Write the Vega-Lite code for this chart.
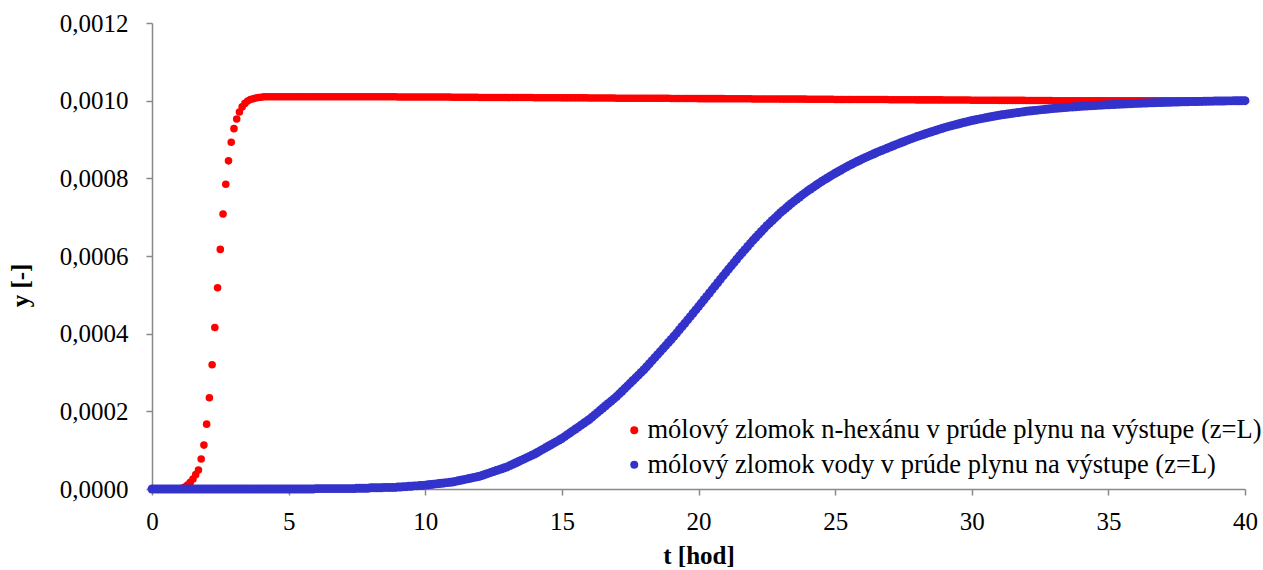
{
"$schema":"https://vega.github.io/schema/vega-lite/v6.json",
"width":1093,"height":466,
"autosize":{"type":"none"},
"padding":{"left":152,"top":23,"right":18,"bottom":81},
"background":"white",
"config":{"view":{"stroke":null},"font":"Liberation Serif, Times New Roman, serif",
"axis":{"grid":false,"domainColor":"#898989","tickColor":"#898989","domainWidth":1.5,"tickWidth":1.5,"tickSize":6,"labelColor":"black","labelFont":"Liberation Serif, Times New Roman, serif","labelFontSize":25,"titleFont":"Liberation Serif, Times New Roman, serif","titleFontSize":25,"titleFontWeight":"bold","titleColor":"black"}},
"data":{"values":[
{"t":0,"h":0,"w":0},{"t":0.1,"h":0,"w":0},{"t":0.2,"h":0,"w":0},{"t":0.3,"h":0,"w":0},{"t":0.4,"h":0,"w":0},{"t":0.5,"h":0,"w":0},{"t":0.6,"h":0,"w":0},{"t":0.7,"h":0,"w":0},{"t":0.8,"h":0,"w":0},{"t":0.9,"h":0,"w":0},
{"t":1,"h":0,"w":0},{"t":1.1,"h":0.000002,"w":0},{"t":1.2,"h":0.000005,"w":0},{"t":1.3,"h":0.00001,"w":0},{"t":1.4,"h":0.000017,"w":0},{"t":1.5,"h":0.000026,"w":0},{"t":1.6,"h":0.000037,"w":0},{"t":1.7,"h":0.000049,"w":0},{"t":1.8,"h":0.000077,"w":0},{"t":1.9,"h":0.000113,"w":0},
{"t":2,"h":0.000167,"w":0},{"t":2.1,"h":0.000235,"w":0},{"t":2.2,"h":0.00032,"w":0},{"t":2.3,"h":0.000416,"w":0},{"t":2.4,"h":0.000518,"w":0},{"t":2.5,"h":0.000617,"w":0},{"t":2.6,"h":0.000708,"w":0},{"t":2.7,"h":0.000785,"w":0},{"t":2.8,"h":0.000845,"w":0},{"t":2.9,"h":0.000893,"w":0},
{"t":3,"h":0.000928,"w":0},{"t":3.1,"h":0.000953,"w":0},{"t":3.2,"h":0.000971,"w":0},{"t":3.3,"h":0.000984,"w":0},{"t":3.4,"h":0.000993,"w":0},{"t":3.5,"h":0.000999,"w":0},{"t":3.6,"h":0.001003,"w":0},{"t":3.7,"h":0.001005,"w":0},{"t":3.8,"h":0.001007,"w":0},{"t":3.9,"h":0.001008,"w":0},
{"t":4,"h":0.001009,"w":0},{"t":4.1,"h":0.00101,"w":0},{"t":4.2,"h":0.00101,"w":0},{"t":4.3,"h":0.00101,"w":0},{"t":4.4,"h":0.00101,"w":0},{"t":4.5,"h":0.00101,"w":0},{"t":4.6,"h":0.00101,"w":0},{"t":4.7,"h":0.00101,"w":0},{"t":4.8,"h":0.00101,"w":0},{"t":4.9,"h":0.00101,"w":0},
{"t":5,"h":0.00101,"w":0},{"t":5.1,"h":0.00101,"w":0},{"t":5.2,"h":0.00101,"w":0},{"t":5.3,"h":0.00101,"w":0},{"t":5.4,"h":0.00101,"w":0},{"t":5.5,"h":0.00101,"w":0},{"t":5.6,"h":0.00101,"w":0},{"t":5.7,"h":0.00101,"w":0},{"t":5.8,"h":0.00101,"w":0},{"t":5.9,"h":0.00101,"w":0},
{"t":6,"h":0.00101,"w":0.000001},{"t":6.1,"h":0.00101,"w":0.000001},{"t":6.2,"h":0.00101,"w":0.000001},{"t":6.3,"h":0.00101,"w":0.000001},{"t":6.4,"h":0.00101,"w":0.000001},{"t":6.5,"h":0.00101,"w":0.000001},{"t":6.6,"h":0.00101,"w":0.000001},{"t":6.7,"h":0.00101,"w":0.000001},{"t":6.8,"h":0.00101,"w":0.000001},{"t":6.9,"h":0.00101,"w":0.000001},
{"t":7,"h":0.00101,"w":0.000001},{"t":7.1,"h":0.00101,"w":0.000001},{"t":7.2,"h":0.00101,"w":0.000001},{"t":7.3,"h":0.00101,"w":0.000001},{"t":7.4,"h":0.00101,"w":0.000001},{"t":7.5,"h":0.00101,"w":0.000002},{"t":7.6,"h":0.00101,"w":0.000002},{"t":7.7,"h":0.00101,"w":0.000002},{"t":7.8,"h":0.00101,"w":0.000002},{"t":7.9,"h":0.00101,"w":0.000002},
{"t":8,"h":0.00101,"w":0.000003},{"t":8.1,"h":0.00101,"w":0.000003},{"t":8.2,"h":0.00101,"w":0.000003},{"t":8.3,"h":0.00101,"w":0.000003},{"t":8.4,"h":0.00101,"w":0.000003},{"t":8.5,"h":0.00101,"w":0.000004},{"t":8.6,"h":0.00101,"w":0.000004},{"t":8.7,"h":0.00101,"w":0.000004},{"t":8.8,"h":0.00101,"w":0.000004},{"t":8.9,"h":0.00101,"w":0.000004},
{"t":9,"h":0.0010096,"w":0.000005},{"t":9.1,"h":0.0010096,"w":0.000005},{"t":9.2,"h":0.0010096,"w":0.000006},{"t":9.3,"h":0.0010096,"w":0.000006},{"t":9.4,"h":0.0010096,"w":0.000007},{"t":9.5,"h":0.0010096,"w":0.000007},{"t":9.6,"h":0.0010096,"w":0.000008},{"t":9.7,"h":0.0010096,"w":0.000008},{"t":9.8,"h":0.0010096,"w":0.000009},{"t":9.9,"h":0.0010096,"w":0.000009},
{"t":10,"h":0.0010092,"w":0.00001},{"t":10.1,"h":0.0010092,"w":0.0000108},{"t":10.2,"h":0.0010092,"w":0.0000116},{"t":10.3,"h":0.0010092,"w":0.0000124},{"t":10.4,"h":0.0010092,"w":0.0000132},{"t":10.5,"h":0.0010092,"w":0.000014},{"t":10.6,"h":0.0010092,"w":0.0000148},{"t":10.7,"h":0.0010092,"w":0.0000156},{"t":10.8,"h":0.0010092,"w":0.0000164},{"t":10.9,"h":0.0010092,"w":0.0000172},
{"t":11,"h":0.0010088,"w":0.000018},{"t":11.1,"h":0.0010088,"w":0.0000195},{"t":11.2,"h":0.0010088,"w":0.000021},{"t":11.3,"h":0.0010088,"w":0.0000225},{"t":11.4,"h":0.0010088,"w":0.000024},{"t":11.5,"h":0.0010088,"w":0.0000255},{"t":11.6,"h":0.0010088,"w":0.000027},{"t":11.7,"h":0.0010088,"w":0.0000285},{"t":11.8,"h":0.0010088,"w":0.00003},{"t":11.9,"h":0.0010088,"w":0.0000315},
{"t":12,"h":0.0010084,"w":0.000033},{"t":12.1,"h":0.0010084,"w":0.0000354},{"t":12.2,"h":0.0010084,"w":0.0000378},{"t":12.3,"h":0.0010084,"w":0.0000402},{"t":12.4,"h":0.0010084,"w":0.0000426},{"t":12.5,"h":0.0010084,"w":0.000045},{"t":12.6,"h":0.0010084,"w":0.0000474},{"t":12.7,"h":0.0010084,"w":0.0000498},{"t":12.8,"h":0.0010084,"w":0.0000522},{"t":12.9,"h":0.0010084,"w":0.0000546},
{"t":13,"h":0.001008,"w":0.000057},{"t":13.1,"h":0.001008,"w":0.0000603},{"t":13.2,"h":0.001008,"w":0.0000636},{"t":13.3,"h":0.001008,"w":0.0000669},{"t":13.4,"h":0.001008,"w":0.0000702},{"t":13.5,"h":0.001008,"w":0.0000735},{"t":13.6,"h":0.001008,"w":0.0000768},{"t":13.7,"h":0.001008,"w":0.0000801},{"t":13.8,"h":0.001008,"w":0.0000834},{"t":13.9,"h":0.001008,"w":0.0000867},
{"t":14,"h":0.0010076,"w":0.00009},{"t":14.1,"h":0.0010076,"w":0.000094},{"t":14.2,"h":0.0010076,"w":0.000098},{"t":14.3,"h":0.0010076,"w":0.000102},{"t":14.4,"h":0.0010076,"w":0.000106},{"t":14.5,"h":0.0010076,"w":0.00011},{"t":14.6,"h":0.0010076,"w":0.000114},{"t":14.7,"h":0.0010076,"w":0.000118},{"t":14.8,"h":0.0010076,"w":0.000122},{"t":14.9,"h":0.0010076,"w":0.000126},
{"t":15,"h":0.0010072,"w":0.00013},{"t":15.1,"h":0.0010072,"w":0.0001349},{"t":15.2,"h":0.0010072,"w":0.0001398},{"t":15.3,"h":0.0010072,"w":0.0001447},{"t":15.4,"h":0.0010072,"w":0.0001496},{"t":15.5,"h":0.0010072,"w":0.0001545},{"t":15.6,"h":0.0010072,"w":0.0001594},{"t":15.7,"h":0.0010072,"w":0.0001643},{"t":15.8,"h":0.0010072,"w":0.0001692},{"t":15.9,"h":0.0010072,"w":0.0001741},
{"t":16,"h":0.0010068,"w":0.000179},{"t":16.1,"h":0.0010068,"w":0.0001849},{"t":16.2,"h":0.0010068,"w":0.0001908},{"t":16.3,"h":0.0010068,"w":0.0001967},{"t":16.4,"h":0.0010068,"w":0.0002026},{"t":16.5,"h":0.0010068,"w":0.0002085},{"t":16.6,"h":0.0010068,"w":0.0002144},{"t":16.7,"h":0.0010068,"w":0.0002203},{"t":16.8,"h":0.0010068,"w":0.0002262},{"t":16.9,"h":0.0010068,"w":0.0002321},
{"t":17,"h":0.0010064,"w":0.000238},{"t":17.1,"h":0.0010064,"w":0.0002449},{"t":17.2,"h":0.0010064,"w":0.0002518},{"t":17.3,"h":0.0010064,"w":0.0002587},{"t":17.4,"h":0.0010064,"w":0.0002656},{"t":17.5,"h":0.0010064,"w":0.0002725},{"t":17.6,"h":0.0010064,"w":0.0002794},{"t":17.7,"h":0.0010064,"w":0.0002863},{"t":17.8,"h":0.0010064,"w":0.0002932},{"t":17.9,"h":0.0010064,"w":0.0003001},
{"t":18,"h":0.001006,"w":0.000307},{"t":18.1,"h":0.001006,"w":0.0003148},{"t":18.2,"h":0.001006,"w":0.0003226},{"t":18.3,"h":0.001006,"w":0.0003304},{"t":18.4,"h":0.001006,"w":0.0003382},{"t":18.5,"h":0.001006,"w":0.000346},{"t":18.6,"h":0.001006,"w":0.0003538},{"t":18.7,"h":0.001006,"w":0.0003616},{"t":18.8,"h":0.001006,"w":0.0003694},{"t":18.9,"h":0.001006,"w":0.0003772},
{"t":19,"h":0.0010056,"w":0.000385},{"t":19.1,"h":0.0010056,"w":0.0003933},{"t":19.2,"h":0.0010056,"w":0.0004016},{"t":19.3,"h":0.0010056,"w":0.00041},{"t":19.4,"h":0.0010056,"w":0.0004184},{"t":19.5,"h":0.0010056,"w":0.0004268},{"t":19.6,"h":0.0010056,"w":0.0004353},{"t":19.7,"h":0.0010056,"w":0.0004439},{"t":19.8,"h":0.0010056,"w":0.0004525},{"t":19.9,"h":0.0010056,"w":0.0004611},
{"t":20,"h":0.0010052,"w":0.0004698},{"t":20.1,"h":0.0010052,"w":0.0004786},{"t":20.2,"h":0.0010052,"w":0.0004873},{"t":20.3,"h":0.0010052,"w":0.0004961},{"t":20.4,"h":0.0010052,"w":0.0005048},{"t":20.5,"h":0.0010052,"w":0.0005136},{"t":20.6,"h":0.0010052,"w":0.0005224},{"t":20.7,"h":0.0010052,"w":0.0005311},{"t":20.8,"h":0.0010052,"w":0.0005399},{"t":20.9,"h":0.0010052,"w":0.0005486},
{"t":21,"h":0.0010048,"w":0.0005574},{"t":21.1,"h":0.0010048,"w":0.000566},{"t":21.2,"h":0.0010048,"w":0.0005745},{"t":21.3,"h":0.0010048,"w":0.0005831},{"t":21.4,"h":0.0010048,"w":0.0005916},{"t":21.5,"h":0.0010048,"w":0.0006002},{"t":21.6,"h":0.0010048,"w":0.0006083},{"t":21.7,"h":0.0010048,"w":0.0006164},{"t":21.8,"h":0.0010048,"w":0.0006245},{"t":21.9,"h":0.0010048,"w":0.0006326},
{"t":22,"h":0.0010044,"w":0.0006407},{"t":22.1,"h":0.0010044,"w":0.0006482},{"t":22.2,"h":0.0010044,"w":0.0006556},{"t":22.3,"h":0.0010044,"w":0.0006631},{"t":22.4,"h":0.0010044,"w":0.0006705},{"t":22.5,"h":0.0010044,"w":0.000678},{"t":22.6,"h":0.0010044,"w":0.0006847},{"t":22.7,"h":0.0010044,"w":0.0006914},{"t":22.8,"h":0.0010044,"w":0.0006981},{"t":22.9,"h":0.0010044,"w":0.0007048},
{"t":23,"h":0.001004,"w":0.0007115},{"t":23.1,"h":0.001004,"w":0.0007175},{"t":23.2,"h":0.001004,"w":0.0007234},{"t":23.3,"h":0.001004,"w":0.0007294},{"t":23.4,"h":0.001004,"w":0.0007353},{"t":23.5,"h":0.001004,"w":0.0007413},{"t":23.6,"h":0.001004,"w":0.0007466},{"t":23.7,"h":0.001004,"w":0.0007519},{"t":23.8,"h":0.001004,"w":0.0007572},{"t":23.9,"h":0.001004,"w":0.0007625},
{"t":24,"h":0.0010036,"w":0.0007678},{"t":24.1,"h":0.0010036,"w":0.0007726},{"t":24.2,"h":0.0010036,"w":0.0007773},{"t":24.3,"h":0.0010036,"w":0.0007821},{"t":24.4,"h":0.0010036,"w":0.0007868},{"t":24.5,"h":0.0010036,"w":0.0007916},{"t":24.6,"h":0.0010036,"w":0.0007959},{"t":24.7,"h":0.0010036,"w":0.0008002},{"t":24.8,"h":0.0010036,"w":0.0008045},{"t":24.9,"h":0.0010036,"w":0.0008088},
{"t":25,"h":0.0010032,"w":0.0008131},{"t":25.1,"h":0.0010032,"w":0.000817},{"t":25.2,"h":0.0010032,"w":0.0008209},{"t":25.3,"h":0.0010032,"w":0.0008248},{"t":25.4,"h":0.0010032,"w":0.0008287},{"t":25.5,"h":0.0010032,"w":0.0008326},{"t":25.6,"h":0.0010032,"w":0.0008361},{"t":25.7,"h":0.0010032,"w":0.0008396},{"t":25.8,"h":0.0010032,"w":0.0008431},{"t":25.9,"h":0.0010032,"w":0.0008466},
{"t":26,"h":0.0010028,"w":0.0008501},{"t":26.1,"h":0.0010028,"w":0.0008533},{"t":26.2,"h":0.0010028,"w":0.0008564},{"t":26.3,"h":0.0010028,"w":0.0008596},{"t":26.4,"h":0.0010028,"w":0.0008627},{"t":26.5,"h":0.0010028,"w":0.0008659},{"t":26.6,"h":0.0010028,"w":0.0008688},{"t":26.7,"h":0.0010028,"w":0.0008717},{"t":26.8,"h":0.0010028,"w":0.0008746},{"t":26.9,"h":0.0010028,"w":0.0008775},
{"t":27,"h":0.0010024,"w":0.0008804},{"t":27.1,"h":0.0010024,"w":0.0008832},{"t":27.2,"h":0.0010024,"w":0.000886},{"t":27.3,"h":0.0010024,"w":0.0008888},{"t":27.4,"h":0.0010024,"w":0.0008916},{"t":27.5,"h":0.0010024,"w":0.0008943},{"t":27.6,"h":0.0010024,"w":0.000897},{"t":27.7,"h":0.0010024,"w":0.0008997},{"t":27.8,"h":0.0010024,"w":0.0009023},{"t":27.9,"h":0.0010024,"w":0.0009049},
{"t":28,"h":0.001002,"w":0.0009075},{"t":28.1,"h":0.001002,"w":0.0009099},{"t":28.2,"h":0.001002,"w":0.0009123},{"t":28.3,"h":0.001002,"w":0.0009147},{"t":28.4,"h":0.001002,"w":0.000917},{"t":28.5,"h":0.001002,"w":0.0009193},{"t":28.6,"h":0.001002,"w":0.0009216},{"t":28.7,"h":0.001002,"w":0.0009239},{"t":28.8,"h":0.001002,"w":0.0009261},{"t":28.9,"h":0.001002,"w":0.0009283},
{"t":29,"h":0.0010016,"w":0.0009305},{"t":29.1,"h":0.0010016,"w":0.0009325},{"t":29.2,"h":0.0010016,"w":0.0009344},{"t":29.3,"h":0.0010016,"w":0.0009363},{"t":29.4,"h":0.0010016,"w":0.0009382},{"t":29.5,"h":0.0010016,"w":0.00094},{"t":29.6,"h":0.0010016,"w":0.0009418},{"t":29.7,"h":0.0010016,"w":0.0009436},{"t":29.8,"h":0.0010016,"w":0.0009453},{"t":29.9,"h":0.0010016,"w":0.000947},
{"t":30,"h":0.0010012,"w":0.0009487},{"t":30.1,"h":0.0010012,"w":0.0009503},{"t":30.2,"h":0.0010012,"w":0.0009517},{"t":30.3,"h":0.0010012,"w":0.0009531},{"t":30.4,"h":0.0010012,"w":0.0009544},{"t":30.5,"h":0.0010012,"w":0.0009558},{"t":30.6,"h":0.0010012,"w":0.0009571},{"t":30.7,"h":0.0010012,"w":0.0009585},{"t":30.8,"h":0.0010012,"w":0.0009598},{"t":30.9,"h":0.0010012,"w":0.0009612},
{"t":31,"h":0.0010008,"w":0.0009625},{"t":31.1,"h":0.0010008,"w":0.0009635},{"t":31.2,"h":0.0010008,"w":0.0009645},{"t":31.3,"h":0.0010008,"w":0.0009655},{"t":31.4,"h":0.0010008,"w":0.0009665},{"t":31.5,"h":0.0010008,"w":0.0009675},{"t":31.6,"h":0.0010008,"w":0.0009685},{"t":31.7,"h":0.0010008,"w":0.0009695},{"t":31.8,"h":0.0010008,"w":0.0009705},{"t":31.9,"h":0.0010008,"w":0.0009715},
{"t":32,"h":0.0010004,"w":0.0009725},{"t":32.1,"h":0.0010004,"w":0.0009733},{"t":32.2,"h":0.0010004,"w":0.000974},{"t":32.3,"h":0.0010004,"w":0.0009748},{"t":32.4,"h":0.0010004,"w":0.0009755},{"t":32.5,"h":0.0010004,"w":0.0009763},{"t":32.6,"h":0.0010004,"w":0.000977},{"t":32.7,"h":0.0010004,"w":0.0009778},{"t":32.8,"h":0.0010004,"w":0.0009785},{"t":32.9,"h":0.0010004,"w":0.0009793},
{"t":33,"h":0.001,"w":0.00098},{"t":33.1,"h":0.001,"w":0.0009806},{"t":33.2,"h":0.001,"w":0.0009811},{"t":33.3,"h":0.001,"w":0.0009817},{"t":33.4,"h":0.001,"w":0.0009822},{"t":33.5,"h":0.001,"w":0.0009828},{"t":33.6,"h":0.001,"w":0.0009833},{"t":33.7,"h":0.001,"w":0.0009839},{"t":33.8,"h":0.001,"w":0.0009844},{"t":33.9,"h":0.001,"w":0.000985},
{"t":34,"h":0.001,"w":0.0009855},{"t":34.1,"h":0.001,"w":0.0009859},{"t":34.2,"h":0.001,"w":0.0009863},{"t":34.3,"h":0.001,"w":0.0009867},{"t":34.4,"h":0.001,"w":0.0009871},{"t":34.5,"h":0.001,"w":0.0009875},{"t":34.6,"h":0.001,"w":0.0009879},{"t":34.7,"h":0.001,"w":0.0009883},{"t":34.8,"h":0.001,"w":0.0009887},{"t":34.9,"h":0.001,"w":0.0009891},
{"t":35,"h":0.001,"w":0.0009895},{"t":35.1,"h":0.001,"w":0.0009899},{"t":35.2,"h":0.001,"w":0.0009902},{"t":35.3,"h":0.001,"w":0.0009906},{"t":35.4,"h":0.001,"w":0.0009909},{"t":35.5,"h":0.001,"w":0.0009913},{"t":35.6,"h":0.001,"w":0.0009916},{"t":35.7,"h":0.001,"w":0.000992},{"t":35.8,"h":0.001,"w":0.0009923},{"t":35.9,"h":0.001,"w":0.0009927},
{"t":36,"h":0.001,"w":0.000993},{"t":36.1,"h":0.001,"w":0.0009933},{"t":36.2,"h":0.001,"w":0.0009935},{"t":36.3,"h":0.001,"w":0.0009938},{"t":36.4,"h":0.001,"w":0.000994},{"t":36.5,"h":0.001,"w":0.0009943},{"t":36.6,"h":0.001,"w":0.0009945},{"t":36.7,"h":0.001,"w":0.0009948},{"t":36.8,"h":0.001,"w":0.000995},{"t":36.9,"h":0.001,"w":0.0009953},
{"t":37,"h":0.001,"w":0.0009955},{"t":37.1,"h":0.001,"w":0.0009957},{"t":37.2,"h":0.001,"w":0.0009959},{"t":37.3,"h":0.001,"w":0.0009961},{"t":37.4,"h":0.001,"w":0.0009963},{"t":37.5,"h":0.001,"w":0.0009965},{"t":37.6,"h":0.001,"w":0.0009967},{"t":37.7,"h":0.001,"w":0.0009969},{"t":37.8,"h":0.001,"w":0.0009971},{"t":37.9,"h":0.001,"w":0.0009973},
{"t":38,"h":0.001,"w":0.0009975},{"t":38.1,"h":0.001,"w":0.0009977},{"t":38.2,"h":0.001,"w":0.0009978},{"t":38.3,"h":0.001,"w":0.000998},{"t":38.4,"h":0.001,"w":0.0009981},{"t":38.5,"h":0.001,"w":0.0009983},{"t":38.6,"h":0.001,"w":0.0009984},{"t":38.7,"h":0.001,"w":0.0009986},{"t":38.8,"h":0.001,"w":0.0009987},{"t":38.9,"h":0.001,"w":0.0009989},
{"t":39,"h":0.001,"w":0.000999},{"t":39.1,"h":0.001,"w":0.0009991},{"t":39.2,"h":0.001,"w":0.0009992},{"t":39.3,"h":0.001,"w":0.0009993},{"t":39.4,"h":0.001,"w":0.0009994},{"t":39.5,"h":0.001,"w":0.0009995},{"t":39.6,"h":0.001,"w":0.0009996},{"t":39.7,"h":0.001,"w":0.0009997},{"t":39.8,"h":0.001,"w":0.0009998},{"t":39.9,"h":0.001,"w":0.0009999},
{"t":40,"h":0.001,"w":0.001}
]},
"transform":[{"fold":["h","w"],"as":["series","y"]}],
"mark":{"type":"circle","opacity":1},
"encoding":{
"x":{"field":"t","type":"quantitative","scale":{"domain":[0,40],"nice":false,"zero":false},
"axis":{"values":[0,5,10,15,20,25,30,35,40],"title":"t [hod]","labelFlush":false,"labelPadding":14,"titleBaseline":"alphabetic","titleY":74}},
"y":{"field":"y","type":"quantitative","scale":{"domain":[0,0.0012],"nice":false},
"axis":{"values":[0,0.0002,0.0004,0.0006,0.0008,0.001,0.0012],"labelFlush":false,"labelExpr":"replace(format(datum.value,'.4f'),'.',',')","labelPadding":18,"title":"y [-]","titleAngle":270,"titleAlign":"center","titleBaseline":"alphabetic","titleX":-124,"titleY":262}},
"color":{"field":"series","type":"nominal","scale":{"domain":["h","w"],"range":["#FF0000","#3333CC"]},
"legend":{"title":null,"orient":"none","legendX":469,"legendY":394,"labelExpr":"datum.label==='h'?'mólový zlomok n-hexánu v prúde plynu na výstupe (z=L)':'mólový zlomok vody v prúde plynu na výstupe (z=L)'","labelFont":"Liberation Serif, Times New Roman, serif","labelFontSize":26.5,"labelColor":"black","labelLimit":0,"labelOffset":0,"rowPadding":7.5,"symbolType":"circle","symbolSize":64,"symbolStrokeWidth":0,"symbolOpacity":1}},
"size":{"condition":{"test":"datum.series==='w'","value":80},"value":57},
"order":{"field":"series","sort":"ascending"}
}
}
